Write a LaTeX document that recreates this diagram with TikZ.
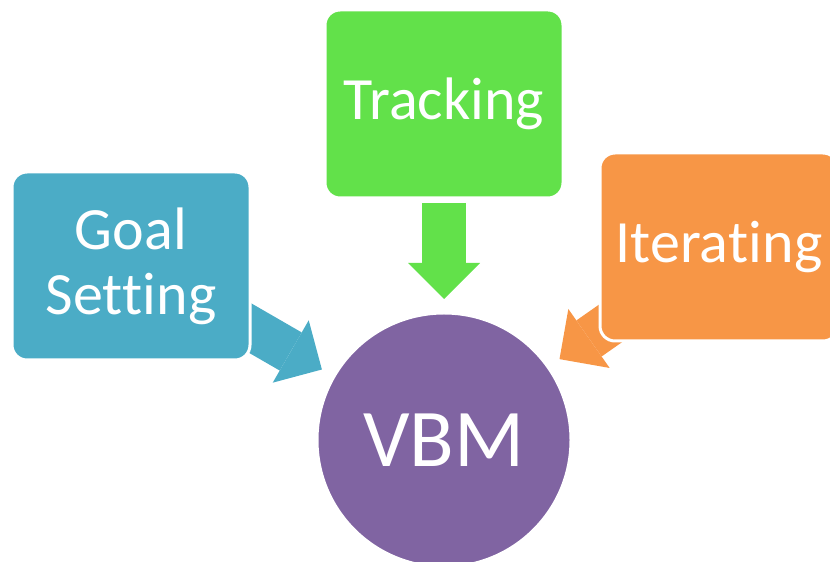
\documentclass[tikz,border=0pt]{standalone}
\usepackage{fontspec}
\setmainfont[RawFeature={-liga;-clig;-calt;-dlig;-ccmp}]{Carlito}
\usetikzlibrary{arrows.meta,backgrounds}
\definecolor{goalblue}{HTML}{4BACC6}
\definecolor{trackgreen}{HTML}{62E14A}
\definecolor{iterorange}{HTML}{F79646}
\definecolor{vbmpurple}{HTML}{8064A2}
\newcommand{\nolig}{\kern0pt}

\begin{document}
\begin{tikzpicture}[x=1pt,y=1pt,
		box/.style={rectangle,rounded corners=15pt,draw=white,line width=3pt,text=white,minimum width=238pt,minimum height=188pt,align=center,font=\fontsize{60}{65}\selectfont},
		blockarrow/.style={line width=44pt,-{Triangle[width=72pt,length=36pt,line width=0pt]}}]
				\useasboundingbox (0,0) rectangle (830,562);
				\clip (0,0) rectangle (830,562);
				\node[circle,fill=vbmpurple,draw=white,line width=3pt,minimum size=254pt,text=white,font=\fontsize{82}{90}\selectfont] (vbm) at (444,122) {VBM};
				\node[box,fill=goalblue] (goal) at (131,296) {Goal\\Set\nolig t\nolig ing};
				\node[box,fill=trackgreen] (track) at (444,458) {Tracking};
				\node[box,fill=iterorange] (iter) at (719,315) {Itera\nolig t\nolig ing};
				\coordinate (gtail) at ([shift={(150:237)}]vbm.center);
				\coordinate (gtip) at ([shift={(150:141)}]vbm.center);
				\coordinate (ttail) at ([shift={(90:237)}]vbm.center);
				\coordinate (ttip) at ([shift={(90:141)}]vbm.center);
				\coordinate (itail) at ([shift={(35:237)}]vbm.center);
				\coordinate (itip) at ([shift={(35:141)}]vbm.center);
				\begin{scope}[on background layer]
					\draw[blockarrow,goalblue] (gtail) -- (gtip);
					\draw[blockarrow,trackgreen] (ttail) -- (ttip);
					\draw[blockarrow,iterorange] (itail) -- (itip);
				\end{scope}
			\end{tikzpicture}
\end{document}
